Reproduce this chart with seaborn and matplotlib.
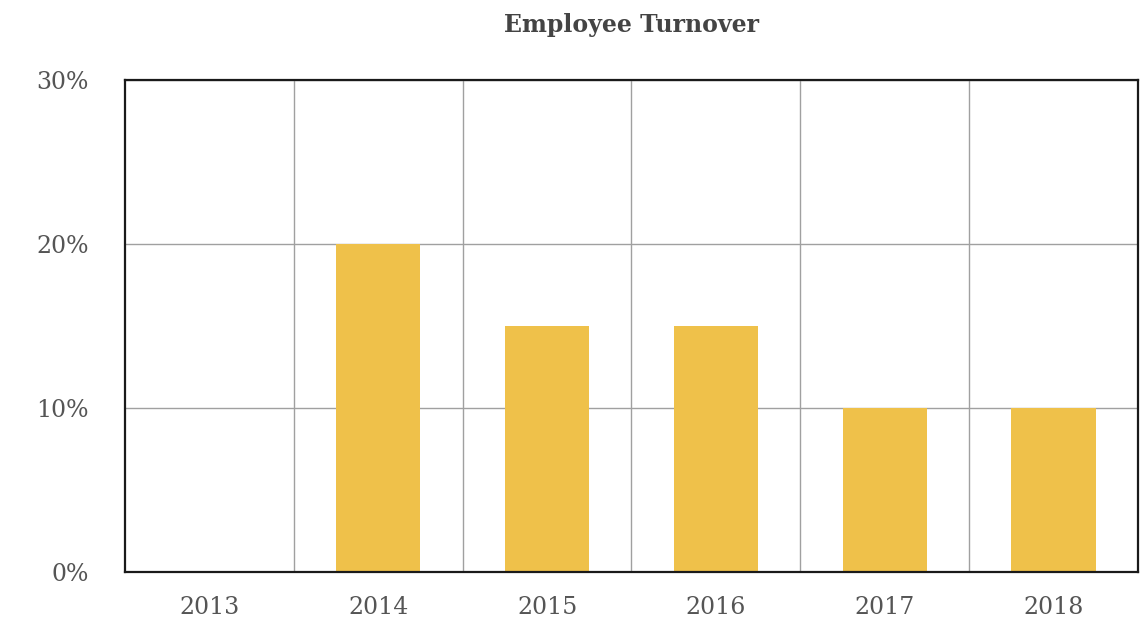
import matplotlib
matplotlib.use("Agg")
import matplotlib.pyplot as plt
import pandas as pd
import seaborn as sns
from matplotlib.ticker import FixedLocator

years = ["2013", "2014", "2015", "2016", "2017", "2018"]
turnover = [0, 20, 15, 15, 10, 10]
y_ticks = [0, 10, 20, 30]
y_labels = ["0%", "10%", "20%", "30%"]

df = pd.DataFrame({"year": years, "turnover": turnover})

sns.set_style("white")
plt.rcParams["font.family"] = ["DejaVu Serif"]

fig = plt.figure(figsize=(11.46, 6.25), dpi=100)
ax = fig.add_axes([125 / 1146, 53 / 625, 1013 / 1146, 492 / 625])

sns.barplot(data=df, x="year", y="turnover", color="#efc14a", saturation=1,
            width=0.5, linewidth=0, ax=ax, zorder=2)

ax.set_ylim(0, 30)
ax.set_xlim(-0.5, len(years) - 0.5)
ax.set_yticks(y_ticks)
ax.set_yticklabels(y_labels)
ax.xaxis.set_minor_locator(FixedLocator([i + 0.5 for i in range(len(years) - 1)]))
ax.grid(axis="y", which="major", color="#a0a0a0", linewidth=1, zorder=0)
ax.grid(axis="x", which="minor", color="#a0a0a0", linewidth=1, zorder=0)
ax.grid(axis="x", which="major", visible=False)
ax.set_axisbelow(True)
ax.tick_params(axis="both", which="both", length=0, labelsize=17, colors="#555555")
ax.tick_params(axis="x", pad=17)
ax.tick_params(axis="y", pad=26)
ax.set_xlabel("")
ax.set_ylabel("")

for side in ["left", "bottom", "top", "right"]:
    ax.spines[side].set_visible(True)
    ax.spines[side].set_color("#1a1a1a")
    ax.spines[side].set_linewidth(1.6)

fig.suptitle("Employee Turnover", x=(125 + 1138) / 2 / 1146, y=1 - 25 / 625,
             va="center", fontsize=17, fontweight="bold", color="#444444")

fig.savefig("out.png", dpi=100)
